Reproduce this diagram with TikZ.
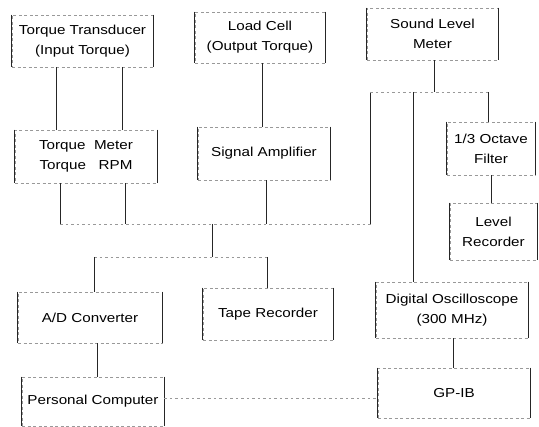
\documentclass[tikz,border=0pt]{standalone}
\usepackage{fontspec}
\setmainfont{Liberation Sans}[FakeStretch=1.17]
\begin{document}
\begin{tikzpicture}[x=1pt,y=-1pt,
  box/.style={draw=black!40, line width=0.6pt, dash pattern=on 3pt off 2.5pt,
    rectangle, align=center, inner sep=0pt,
    font=\fontsize{13pt}{20pt}\selectfont},
  vl/.style={draw=black!85, line width=0.8pt},
  hl/.style={draw=black!40, line width=0.6pt, dash pattern=on 2.5pt off 3pt}]
\useasboundingbox (0,0) rectangle (539,427);
% boxes
\node[box, minimum width=141pt, minimum height=52pt] (tt)  at (82.5,41)  {Torque Transducer\\(Input Torque)};
\node[box, minimum width=130pt, minimum height=51pt] (lc)  at (260,37.5) {Load Cell\\(Output Torque)};
\node[box, minimum width=131pt, minimum height=52pt] (slm) at (432.5,34) {Sound Level\\Meter};
\node[box, minimum width=142pt, minimum height=53pt] (tm)  at (86,156.5) {Torque\ \ Meter\\Torque\ \ \ RPM};
\node[box, minimum width=132pt, minimum height=53pt] (sa)  at (264,153.5) {Signal Amplifier};
\node[box, minimum width=88pt,  minimum height=53pt] (of)  at (491,148.5) {1/3 Octave\\Filter};
\node[box, minimum width=87pt,  minimum height=57pt] (lr)  at (493.5,231.5) {Level\\Recorder};
\node[box, minimum width=144pt, minimum height=51pt] (ad)  at (90,317.5) {A/D Converter};
\node[box, minimum width=130pt, minimum height=52pt] (tr)  at (268,314) {Tape Recorder};
\node[box, minimum width=152pt, minimum height=56pt] (dso) at (452,310) {Digital Oscilloscope\\(300 MHz)};
\node[box, minimum width=142pt, minimum height=49pt] (pc)  at (93,401.5) {Personal Computer};
\node[box, minimum width=152pt, minimum height=50pt] (gp)  at (454,393) {GP-IB};
% solid vertical sides of the boxes
\foreach \n in {tt,lc,slm,tm,sa,of,lr,ad,tr,dso,pc,gp}
  \draw[vl] (\n.north west) -- (\n.south west) (\n.north east) -- (\n.south east);
% junction coordinates
\coordinate (busA) at (212,224);
\coordinate (busB) at (212,257);
\coordinate (busC) at (434,92);
% torque transducer -> torque meter
\draw[vl] (tt.south -| 56,0) -- (tm.north -| 56,0);
\draw[vl] (tt.south -| 122,0) -- (tm.north -| 122,0);
% load cell -> signal amplifier
\draw[vl] (lc.south -| 262,0) -- (sa.north -| 262,0);
% torque meter and signal amplifier to upper bus
\draw[vl] (tm.south -| 60,0) -- (busA -| 60,0);
\draw[vl] (tm.south -| 125,0) -- (busA -| 125,0);
\draw[vl] (sa.south -| 266,0) -- (busA -| 266,0);
\draw[vl] (busC -| 370,0) -- (busA -| 370,0);
\draw[hl] (busA -| 60,0) -- (busA -| 372,0);
\draw[vl] (busA) -- (busB);
\draw[hl] (busB -| 94,0) -- (busB -| 267,0);
\draw[vl] (busB -| 94,0) -- (ad.north -| 94,0);
\draw[vl] (busB -| 267,0) -- (tr.north -| 267,0);
% A/D -> PC -> GP-IB
\draw[vl] (ad.south -| 97,0) -- (pc.north -| 97,0);
\draw[hl] (pc.east |- 0,398) -- (gp.west |- 0,398);
% sound level meter branch
\draw[vl] (slm.south -| busC) -- (busC);
\draw[hl] (busC -| 370,0) -- (busC -| 488,0);
\draw[vl] (busC -| 413,0) -- (dso.north -| 413,0);
\draw[vl] (busC -| 488,0) -- (of.north -| 488,0);
\draw[vl] (of.south -| 491,0) -- (lr.north -| 491,0);
% oscilloscope -> GP-IB
\draw[vl] (dso.south -| 453,0) -- (gp.north -| 453,0);
\end{tikzpicture}
\end{document}
